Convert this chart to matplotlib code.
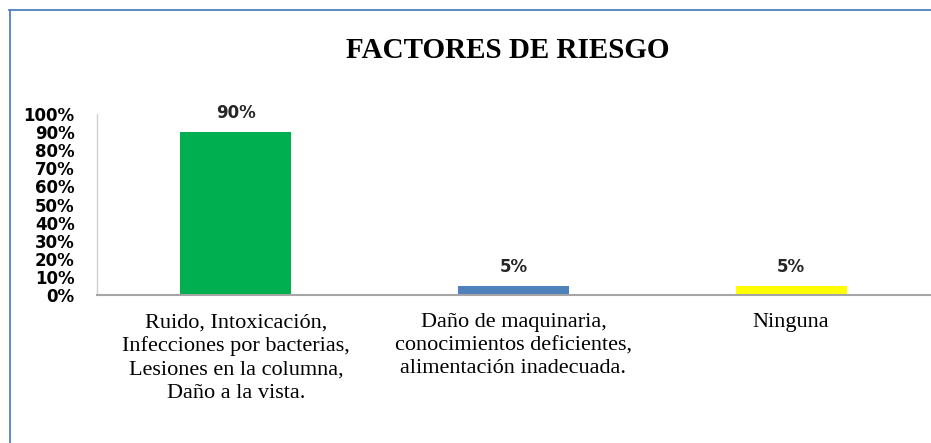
import matplotlib
matplotlib.use("Agg")
import matplotlib.pyplot as plt
from matplotlib.lines import Line2D

categories = ["Ruido, Intoxicación,\nInfecciones por bacterias,\nLesiones en la columna,\nDaño a la vista.",
              "Daño de maquinaria,\nconocimientos deficientes,\nalimentación inadecuada.",
              "Ninguna"]
values = [0.90, 0.05, 0.05]
value_labels = ["90%", "5%", "5%"]
colors = ["#00B050", "#4F81BD", "#FFFF00"]
yticks = [i / 10 for i in range(11)]
ytick_labels = [f"{i*10}%" for i in range(11)]
title = "FACTORES DE RIESGO"

W, H = 931, 443
fig = plt.figure(figsize=(W / 100, H / 100), dpi=100)
ax = fig.add_axes([97 / W, 1 - 295 / H, (930 - 97) / W, (295 - 114) / H])

x = list(range(len(categories)))
ax.bar(x, values, width=0.40, color=colors, zorder=2)
ax.set_xlim(-0.5, len(categories) - 0.5)
ax.set_ylim(0, 1)
ax.set_yticks(yticks)
ax.set_yticklabels(ytick_labels, fontsize=12, fontweight="bold", family="DejaVu Sans")
ax.set_xticks(x)
ax.set_xticklabels(categories, fontsize=16, family="Liberation Serif", linespacing=1.3)
ax.tick_params(axis="y", length=0, pad=16)
ax.tick_params(axis="x", length=0, pad=13)

for s in ["top", "right"]:
    ax.spines[s].set_visible(False)
ax.spines["left"].set_color("#D0D0D0")
ax.spines["left"].set_linewidth(1.0)
ax.spines["bottom"].set_color("#A6A6A6")
ax.spines["bottom"].set_linewidth(1.5)

for xi, v, lab in zip(x, values, value_labels):
    ax.annotate(lab, (xi, v), xytext=(0, 7), textcoords="offset points",
                ha="center", va="bottom", fontsize=12, fontweight="bold",
                family="DejaVu Sans", color="#262626")

fig.text(508 / W, 1 - 51 / H, title, ha="center", va="center", fontsize=21,
         fontweight="bold", family="Liberation Serif")

# chart border (partially visible)
fig.add_artist(Line2D([9 / W, 1.0], [1 - 10 / H, 1 - 10 / H], transform=fig.transFigure,
                      color="#4F81BD", linewidth=1.3))
fig.add_artist(Line2D([10 / W, 10 / W], [0, 1 - 10 / H], transform=fig.transFigure,
                      color="#4F81BD", linewidth=1.3))

fig.savefig("out.png", dpi=100)
